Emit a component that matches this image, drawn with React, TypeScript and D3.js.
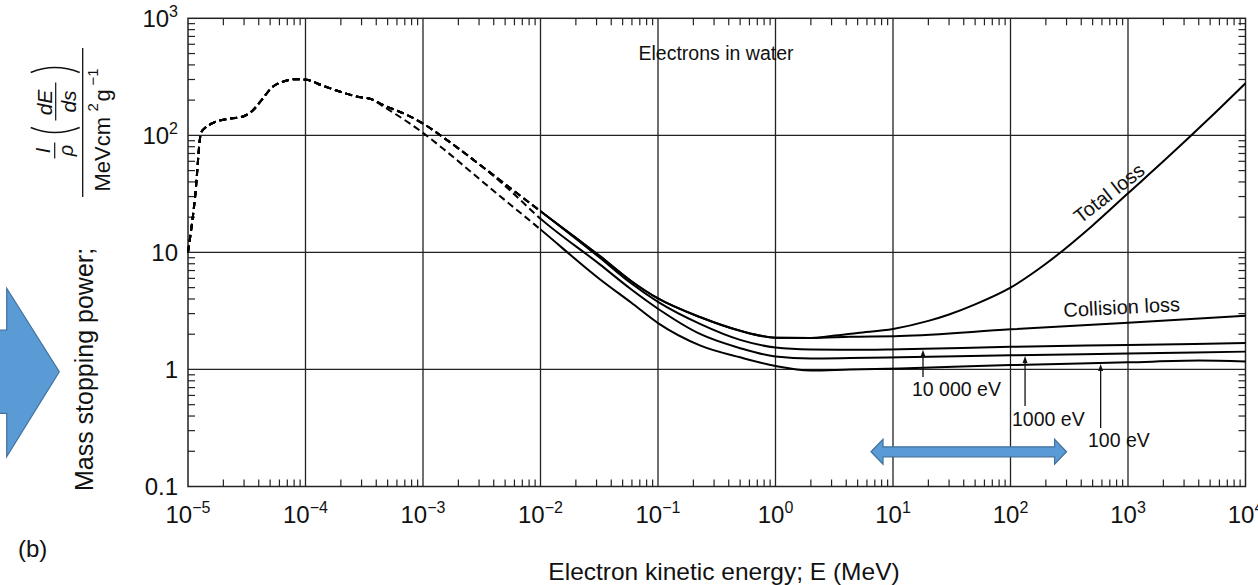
import React from 'react';
import * as d3 from 'd3';

const W = 1258;
const H = 585;
const FONT = "'Liberation Sans', Arial, Helvetica, sans-serif";

// ---- data (energy in MeV, mass stopping power in MeV cm2 g-1) ----
// low-energy region shared by every curve (dashed)
const sharedE = [1e-5, 1.15e-5, 1.29e-5, 1.4e-5, 1.64e-5, 2.28e-5, 2.95e-5, 3.48e-5, 4.24e-5, 5.13e-5, 6.45e-5, 8.4e-5, 1.02e-4, 1.41e-4, 1.95e-4, 2.71e-4, 3.63e-4];
const sharedS = [10, 30, 105, 116, 128, 139, 145, 160, 201, 254, 288, 302, 298, 265, 237, 215, 204];

// collision loss
const collisionE = [4.57e-4, 7.24e-4, 1e-3, 1.58e-3, 3.05e-3, 5e-3, 1e-2, 2e-2, 3.2e-2, 5.9e-2, 0.1, 0.23, 0.5, 1, 2, 4.3, 11.5, 100, 1000, 1e4];
const collisionS = [182, 150, 126, 92, 56, 38.3, 22.5, 13.3, 9.3, 5.7, 4.04, 2.79, 2.14, 1.87, 1.86, 1.9, 1.93, 2.2, 2.51, 2.87];

// total loss (branches off collision loss at 2 MeV)
const totalBranchE = 2;
const totalE = [3, 5, 10, 20, 30, 50, 100, 200, 500, 1000, 2000, 5000, 1e4];
const totalS = [1.93, 2.05, 2.22, 2.6, 2.95, 3.6, 5.0, 8.0, 17, 32, 60, 142, 279];

// restricted, cut-off 10 000 eV (branches off collision at 1e-2 MeV)
const cut10000BranchE = 1e-2;
const cut10000E = [2e-2, 3.2e-2, 5.9e-2, 0.1, 0.23, 0.5, 1, 2, 4.3, 11.5, 100, 1000, 1e4];
const cut10000S = [13.1, 9.0, 5.45, 3.78, 2.44, 1.79, 1.54, 1.48, 1.47, 1.49, 1.56, 1.62, 1.68];

// restricted, cut-off 1000 eV (branches off collision at 3.05e-3 MeV)
const cut1000BranchE = 3.05e-3;
const cut1000E = [5e-3, 1e-2, 3.2e-2, 5.9e-2, 0.1, 0.23, 0.5, 1, 2, 4.3, 11.5, 100, 1000, 1e4];
const cut1000S = [37, 19.4, 7.9, 4.84, 3.3, 2.0, 1.52, 1.29, 1.24, 1.25, 1.27, 1.32, 1.37, 1.42];

// restricted, cut-off 100 eV (branches off the shared part)
const cut100E = [4.57e-4, 7.24e-4, 1e-3, 1.58e-3, 3.05e-3, 1e-2, 3.2e-2, 5.9e-2, 0.1, 0.23, 0.5, 1, 2, 4.3, 11.5, 100, 1000, 4000, 1e4];
const cut100S = [177, 132, 105, 73, 42, 15.7, 5.9, 3.73, 2.49, 1.6, 1.27, 1.07, 0.98, 1.0, 1.02, 1.09, 1.15, 1.19, 1.17];

const dashedBelowE = 1e-2;

// ticks
const xTickExp = [-5, -4, -3, -2, -1, 0, 1, 2, 3, 4];
const yTickValues = [0.1, 1, 10, 100, 1000];
const yTickBase = ['0.1', '1', '10', '10', '10'];
const yTickSup = ['', '', '', '2', '3'];

// annotations
const annotE = [18, 133, 585];
const annotLabels = ['10 000 eV', '1000 eV', '100 eV'];

type P = [number, number];
const zip = (E: number[], S: number[]): P[] => E.map((e, i) => [e, S[i]] as P);

export default function App() {
  const xL = 188, xR = 1245.5, yT = 18.3, yB = 486.5;
  const x = d3.scaleLog().domain([1e-5, 1e4]).range([xL, xR]);
  const y = d3.scaleLog().domain([0.1, 1000]).range([yB, yT]);
  const line = d3.line<P>().x(d => x(d[0])).y(d => y(d[1])).curve(d3.curveMonotoneX);

  const shared = zip(sharedE, sharedS);
  const coll = zip(collisionE, collisionS);
  const collisionPts = [...shared, ...coll];
  const totalPts = [...shared, ...coll.filter(p => p[0] <= totalBranchE), ...zip(totalE, totalS)];
  const c10000Pts = [...shared, ...coll.filter(p => p[0] <= cut10000BranchE), ...zip(cut10000E, cut10000S)];
  const c1000Pts = [...shared, ...coll.filter(p => p[0] <= cut1000BranchE), ...zip(cut1000E, cut1000S)];
  const c100Pts = [...shared, ...zip(cut100E, cut100S)];
  const curves = [c100Pts, c1000Pts, c10000Pts, collisionPts, totalPts];

  const valueAt = (pts: P[], E: number) => {
    const le = Math.log10(E);
    for (let i = 0; i < pts.length - 1; i++) {
      const a = Math.log10(pts[i][0]), b = Math.log10(pts[i + 1][0]);
      if (le >= a && le <= b) {
        const t = (le - a) / (b - a);
        return Math.pow(10, Math.log10(pts[i][1]) + t * (Math.log10(pts[i + 1][1]) - Math.log10(pts[i][1])));
      }
    }
    return pts[pts.length - 1][1];
  };

  const xSplit = x(dashedBelowE);

  // minor ticks
  const xMinor: number[] = [];
  for (let d = -5; d <= 3; d++) for (let k = 2; k <= 9; k++) xMinor.push(k * Math.pow(10, d));
  const yMinor: number[] = [];
  for (let d = -1; d <= 2; d++) for (let k = 2; k <= 9; k++) yMinor.push(k * Math.pow(10, d));

  const annotCurves = [c10000Pts, c1000Pts, c100Pts];
  const annotBottom = [377, 406, 428];
  const annotTextX = [912, 1012, 1088];
  const annotTextY = [396, 425.5, 447];

  // blue double arrow along the energy axis
  const baL = x(6.5), baR = x(300), baY = y(0.198);

  return (
    <svg width={W} height={H} style={{ position: 'absolute', left: 0, top: 0, background: '#fff' }} fontFamily={FONT}>
      <defs>
        <clipPath id="dashClip"><rect x={0} y={0} width={xSplit} height={H} /></clipPath>
        <clipPath id="solidClip"><rect x={xSplit} y={0} width={W - xSplit} height={H} /></clipPath>
      </defs>
      <rect x={0} y={0} width={W} height={H} fill="#fff" />

      {/* grid */}
      {xTickExp.slice(1, -1).map(e => (
        <line key={'gx' + e} x1={x(Math.pow(10, e))} x2={x(Math.pow(10, e))} y1={yT} y2={yB} stroke="#222" strokeWidth={1.3} />
      ))}
      {yTickValues.slice(1, -1).map(v => (
        <line key={'gy' + v} x1={xL} x2={xR} y1={y(v)} y2={y(v)} stroke="#222" strokeWidth={1.3} />
      ))}

      {/* minor ticks */}
      {xMinor.map((v, i) => (
        <g key={'xm' + i}>
          <line x1={x(v)} x2={x(v)} y1={yB} y2={yB - 7} stroke="#222" strokeWidth={1.2} />
          <line x1={x(v)} x2={x(v)} y1={yT} y2={yT + 7} stroke="#222" strokeWidth={1.2} />
        </g>
      ))}
      {yMinor.map((v, i) => (
        <g key={'ym' + i}>
          <line x1={xL} x2={xL + 7} y1={y(v)} y2={y(v)} stroke="#222" strokeWidth={1.2} />
          <line x1={xR} x2={xR - 7} y1={y(v)} y2={y(v)} stroke="#222" strokeWidth={1.2} />
        </g>
      ))}

      {/* frame */}
      <rect x={xL} y={yT} width={xR - xL} height={yB - yT} fill="none" stroke="#222" strokeWidth={1.5} />

      {/* curves */}
      {curves.map((pts, i) => (
        <g key={'c' + i}>
          <path d={line(pts) || ''} fill="none" stroke="#000" strokeWidth={2} strokeDasharray="7,4" clipPath="url(#dashClip)" />
          <path d={line(pts) || ''} fill="none" stroke="#000" strokeWidth={2} clipPath="url(#solidClip)" />
        </g>
      ))}

      {/* x tick labels */}
      {xTickExp.map(e => (
        <text key={'xl' + e} x={x(Math.pow(10, e))} y={523} textAnchor="middle" fontSize={24} fill="#111">
          10<tspan fontSize={16} dy={-10}>{e < 0 ? '\u2212' + Math.abs(e) : String(e)}</tspan>
        </text>
      ))}
      {/* y tick labels */}
      {yTickValues.map((v, i) => (
        <text key={'yl' + i} x={178} y={y(v) + 8.5} textAnchor="end" fontSize={24} fill="#111">
          {yTickBase[i]}{yTickSup[i] ? <tspan fontSize={16} dy={-10}>{yTickSup[i]}</tspan> : null}
        </text>
      ))}

      {/* texts in plot */}
      <text x={716} y={60} textAnchor="middle" fontSize={19.5} fill="#111">Electrons in water</text>
      <text transform="translate(1109,193) rotate(-38)" x={0} y={7} textAnchor="middle" fontSize={20} fill="#111">Total loss</text>
      <text transform="translate(1122,314) rotate(-3)" x={0} y={0} textAnchor="middle" fontSize={20} fill="#111">Collision loss</text>

      {annotE.map((E, i) => {
        const ax = x(E);
        const tip = y(valueAt(annotCurves[i], E)) + 1;
        return (
          <g key={'an' + i}>
            <line x1={ax} x2={ax} y1={tip + 5} y2={annotBottom[i]} stroke="#111" strokeWidth={1.3} />
            <path d={`M${ax},${tip} L${ax - 2.5},${tip + 7} L${ax + 2.5},${tip + 7} Z`} fill="#111" />
            <text x={annotTextX[i]} y={annotTextY[i]} fontSize={19.5} fill="#111">{annotLabels[i]}</text>
          </g>
        );
      })}

      {/* blue double arrow */}
      <path
        d={`M${baL},${baY} L${baL + 12},${baY - 12.5} L${baL + 12},${baY - 5} L${baR - 12},${baY - 5} L${baR - 12},${baY - 12.5} L${baR},${baY} L${baR - 12},${baY + 12.5} L${baR - 12},${baY + 5} L${baL + 12},${baY + 5} L${baL + 12},${baY + 12.5} Z`}
        fill="#5b9bd5" stroke="#41719c" strokeWidth={1.2}
      />

      {/* big blue arrow on the left */}
      <path d="M-2,330 L6.7,330 L6.7,288.3 L59.3,371.7 L6.7,456.7 L6.7,413.3 L-2,413.3 Z" fill="#5b9bd5" stroke="#41719c" strokeWidth={1.2} />

      {/* axis titles */}
      <text x={724} y={580} textAnchor="middle" fontSize={24.5} fill="#111">Electron kinetic energy; E (MeV)</text>
      <text transform="translate(93,369.5) rotate(-90)" x={0} y={0} textAnchor="middle" fontSize={25} fill="#111">Mass stopping power;</text>

      {/* fraction unit label */}
      <g transform="translate(82.7,122.5) rotate(-90)" fill="#111">
        <line x1={-74.5} x2={74.5} y1={0} y2={0} stroke="#111" strokeWidth={1.3} />
        {/* 1/rho */}
        <text x={-28} y={-33} textAnchor="middle" fontSize={20} fontStyle="italic">I</text>
        <line x1={-36} x2={-20} y1={-28} y2={-28} stroke="#111" strokeWidth={1.2} />
        <text x={-28} y={-10} textAnchor="middle" fontSize={20} fontStyle="italic">ρ</text>
        {/* (dE/ds) */}
        <path d="M-5,-52 Q-15,-28 -5,-3" fill="none" stroke="#111" strokeWidth={1.4} />
        <text x={20} y={-31} textAnchor="middle" fontSize={21} fontStyle="italic">dE</text>
        <line x1={2} x2={40} y1={-27} y2={-27} stroke="#111" strokeWidth={1.2} />
        <text x={21} y={-7} textAnchor="middle" fontSize={21} fontStyle="italic">ds</text>
        <path d="M50,-52 Q60,-28 50,-3" fill="none" stroke="#111" strokeWidth={1.4} />
        {/* MeV cm2 g-1 */}
        <text x={-69} y={27} fontSize={22}>MeVcm</text>
        <text x={11} y={15} fontSize={15}>2</text>
        <text x={21} y={27} fontSize={22}>g</text>
        <text x={37} y={15} fontSize={15}>{'\u22121'}</text>
      </g>

      <text x={18} y={557} fontSize={24} fill="#111">(b)</text>
    </svg>
  );
}
